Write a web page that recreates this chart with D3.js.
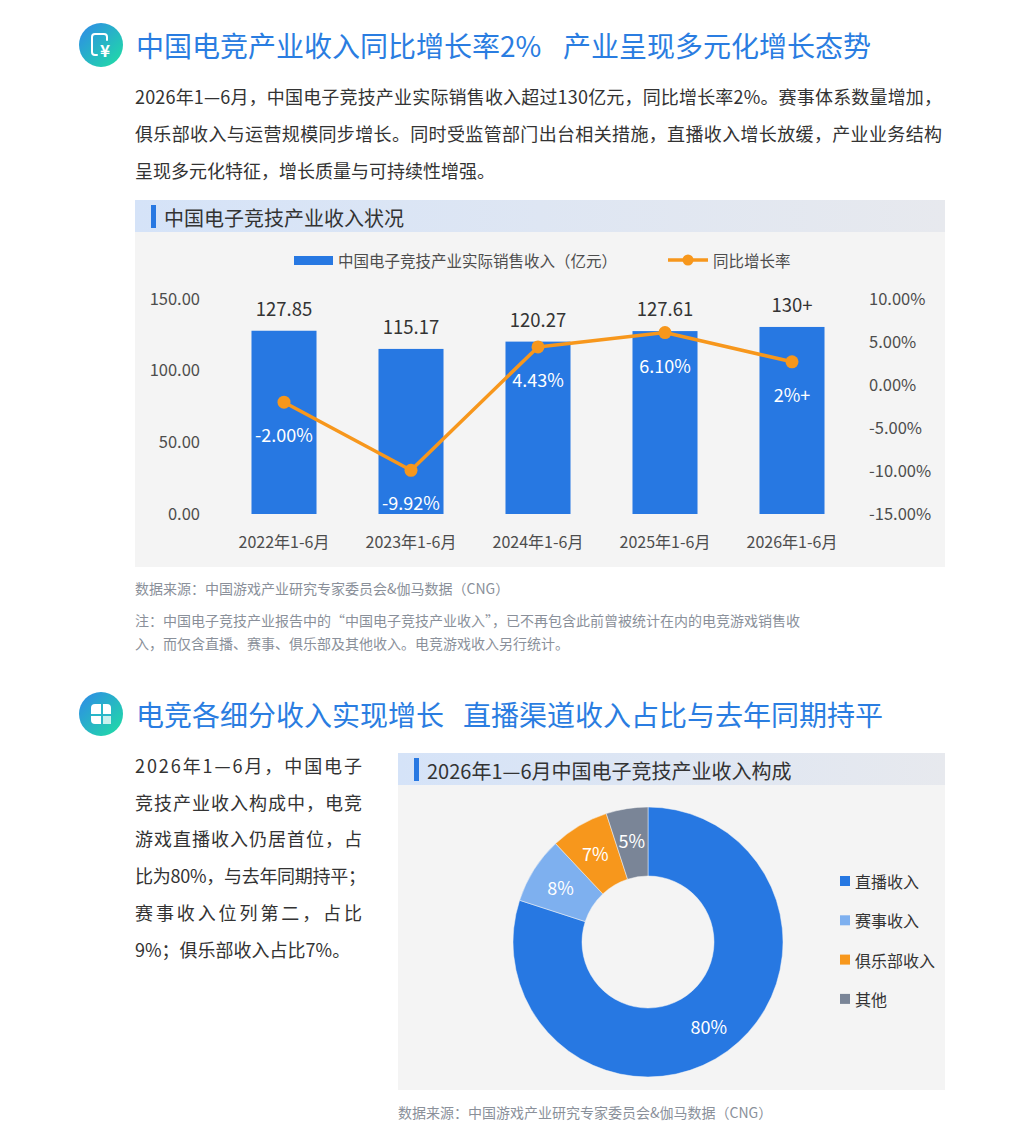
<!DOCTYPE html>
<html>
<head>
<meta charset="utf-8">
<script src="https://cdn.jsdelivr.net/npm/d3@7"></script>
<style>
  body { margin: 0; background: #fff; }
  svg { display: block; font-family: "Noto Sans CJK SC", "Noto Sans", sans-serif; }
</style>
</head>
<body>
<div id="page"></div>
<script>
// data
var years = ['2022年1-6月', '2023年1-6月', '2024年1-6月', '2025年1-6月', '2026年1-6月'];
var revenue = [127.85, 115.17, 120.27, 127.61, 130.5];
var revenueLabels = ['127.85', '115.17', '120.27', '127.61', '130+'];
var growth = [-2.00, -9.92, 4.43, 6.10, 2.7];
var growthLabels = ['-2.00%', '-9.92%', '4.43%', '6.10%', '2%+'];
var leftTicks = [0, 50, 100, 150];
var rightTicks = [-15, -10, -5, 0, 5, 10];

var pieCats = ['直播收入', '赛事收入', '俱乐部收入', '其他'];
var pieValues = [80, 8, 7, 5];

var title1 = ['中国电竞产业收入同比增长率2%', '产业呈现多元化增长态势'];
var title2 = ['电竞各细分收入实现增长', '直播渠道收入占比与去年同期持平'];
var para1 = [
  '2026年1—6月，中国电子竞技产业实际销售收入超过130亿元，同比增长率2%。赛事体系数量增加，',
  '俱乐部收入与运营规模同步增长。同时受监管部门出台相关措施，直播收入增长放缓，产业业务结构',
  '呈现多元化特征，增长质量与可持续性增强。'
];
var para2 = [
  '2026年1—6月，中国电子',
  '竞技产业收入构成中，电竞',
  '游戏直播收入仍居首位，占',
  '比为80%，与去年同期持平；',
  '赛事收入位列第二，占比',
  '9%；俱乐部收入占比7%。'
];
var sourceText = '数据来源：中国游戏产业研究专家委员会&伽马数据（CNG）';
var noteLines = [
  '注：中国电子竞技产业报告中的“中国电子竞技产业收入”，已不再包含此前曾被统计在内的电竞游戏销售收',
  '入，而仅含直播、赛事、俱乐部及其他收入。电竞游戏收入另行统计。'
];
var barTitle = '中国电子竞技产业收入状况';
var pieTitle = '2026年1—6月中国电子竞技产业收入构成';
var legendBar = '中国电子竞技产业实际销售收入（亿元）';
var legendLine = '同比增长率';

// colours
var blue = '#2778e2';
var orange = '#f7971c';
var pieColors = ['#2778e2', '#7eb0ef', '#f7971c', '#7a8597'];
var titleBlue = '#2a7de1';
var textDark = '#333333';
var axisGrey = '#4d4d4d';
var noteGrey = '#8a909a';

var W = 1024, H = 1133;

var svg = d3.select('#page').append('svg')
  .attr('width', W)
  .attr('height', H);

var defs = svg.append('defs');

var iconGrad = defs.append('linearGradient')
  .attr('id', 'iconGrad')
  .attr('x1', '0%').attr('y1', '0%')
  .attr('x2', '100%').attr('y2', '100%');
iconGrad.append('stop').attr('offset', '0%').attr('stop-color', '#2f88ea');
iconGrad.append('stop').attr('offset', '100%').attr('stop-color', '#1fe0a2');

var bandGrad = defs.append('linearGradient')
  .attr('id', 'bandGrad')
  .attr('x1', '0%').attr('y1', '0%')
  .attr('x2', '100%').attr('y2', '0%');
bandGrad.append('stop').attr('offset', '0%').attr('stop-color', '#d5e3f8');
bandGrad.append('stop').attr('offset', '100%').attr('stop-color', '#e7e9ee');

// section header: icon + blue title
function sectionHeader(cy, parts, gapX, iconType) {
  var g = svg.append('g');
  g.append('circle')
    .attr('cx', 101).attr('cy', cy).attr('r', 22)
    .attr('fill', 'url(#iconGrad)');

  if (iconType === 'money') {
    g.append('path')
      .attr('d', 'M104 34 H95 Q92 34 92 37 V52 Q92 55 95 55 H97 M104 34 Q107 34 107 37 V40')
      .attr('fill', 'none')
      .attr('stroke', '#fff')
      .attr('stroke-width', 2)
      .attr('stroke-linecap', 'round');
    g.append('text')
      .attr('x', 105).attr('y', cy + 4)
      .attr('text-anchor', 'middle')
      .attr('dominant-baseline', 'central')
      .attr('font-size', 17)
      .attr('font-weight', 'bold')
      .attr('fill', '#fff')
      .text('¥');
  } else {
    g.append('rect')
      .attr('x', 91).attr('y', cy - 10)
      .attr('width', 20).attr('height', 20)
      .attr('rx', 4)
      .attr('fill', '#fff');
    g.append('path')
      .attr('d', 'M102 ' + (cy - 10) + ' V' + (cy) + ' M91 ' + (cy + 1) + ' H111 M102 ' + (cy + 1) + ' V' + (cy + 10))
      .attr('stroke', '#29b7c8')
      .attr('stroke-width', 2);
    g.append('rect')
      .attr('x', 103).attr('y', cy + 2)
      .attr('width', 8).attr('height', 8)
      .attr('fill', '#c9f1ee');
  }

  g.append('text')
    .attr('x', 136).attr('y', cy)
    .attr('dominant-baseline', 'central')
    .attr('font-size', 28)
    .attr('fill', titleBlue)
    .text(parts[0]);
  g.append('text')
    .attr('x', gapX).attr('y', cy)
    .attr('dominant-baseline', 'central')
    .attr('font-size', 28)
    .attr('fill', titleBlue)
    .text(parts[1]);
}

// justified paragraph lines (last line left loose)
function paragraph(lines, x, y0, lineH, width, size) {
  svg.append('g').selectAll('text')
    .data(lines)
    .enter()
    .append('text')
      .attr('x', x)
      .attr('y', function(d, i) { return y0 + i * lineH; })
      .attr('dominant-baseline', 'central')
      .attr('font-size', size)
      .attr('fill', textDark)
      .attr('textLength', function(d, i) { return i < lines.length - 1 ? width : null; })
      .attr('lengthAdjust', 'spacing')
      .text(function(d) { return d; });
}

function panel(x, y, w, h, title) {
  svg.append('rect')
    .attr('x', x).attr('y', y).attr('width', w).attr('height', h)
    .attr('fill', '#f4f4f4');
  svg.append('rect')
    .attr('x', x).attr('y', y).attr('width', w).attr('height', 32)
    .attr('fill', 'url(#bandGrad)');
  svg.append('rect')
    .attr('x', x + 16).attr('y', y + 5).attr('width', 5).attr('height', 23)
    .attr('fill', blue);
  svg.append('text')
    .attr('x', x + 29).attr('y', y + 17)
    .attr('dominant-baseline', 'central')
    .attr('font-size', 20)
    .attr('fill', textDark)
    .text(title);
}

// ---------- section 1 ----------
sectionHeader(45, title1, 563, 'money');
paragraph(para1, 135, 96, 37, 807, 18);
panel(135, 200, 810, 367, barTitle);

// legend
svg.append('rect')
  .attr('x', 294).attr('y', 256).attr('width', 39).attr('height', 9)
  .attr('fill', blue);
svg.append('text')
  .attr('x', 338).attr('y', 260)
  .attr('dominant-baseline', 'central')
  .attr('font-size', 15.5)
  .attr('fill', axisGrey)
  .text(legendBar);
svg.append('line')
  .attr('x1', 668).attr('x2', 708).attr('y1', 260).attr('y2', 260)
  .attr('stroke', orange).attr('stroke-width', 3.5);
svg.append('circle')
  .attr('cx', 688).attr('cy', 260).attr('r', 5.5)
  .attr('fill', orange);
svg.append('text')
  .attr('x', 713).attr('y', 260)
  .attr('dominant-baseline', 'central')
  .attr('font-size', 15.5)
  .attr('fill', axisGrey)
  .text(legendLine);

// scales
var xScale = d3.scaleBand()
  .domain(years)
  .range([220.5, 855.5])
  .paddingInner(0.488)
  .paddingOuter(0.244);

var yLeft = d3.scaleLinear()
  .domain([0, 150])
  .range([514, 299]);

var yRight = d3.scaleLinear()
  .domain([-15, 10])
  .range([514, 299]);

// plain hyphen minus, like the original labels
var fmt2 = function(d) { return d3.format('.2f')(d).replace('\u2212', '-'); };

// axes
var leftAxis = d3.axisLeft(yLeft)
  .tickValues(leftTicks)
  .tickSize(0)
  .tickPadding(0)
  .tickFormat(fmt2);

var rightAxis = d3.axisRight(yRight)
  .tickValues(rightTicks)
  .tickSize(0)
  .tickPadding(0)
  .tickFormat(function(d) { return fmt2(d) + '%'; });

var bottomAxis = d3.axisBottom(xScale)
  .tickSize(0)
  .tickPadding(0);

function styleAxis(g, size) {
  g.select('.domain').remove();
  g.selectAll('text')
    .attr('font-family', '"Noto Sans CJK SC", "Noto Sans", sans-serif')
    .attr('font-size', size)
    .attr('fill', axisGrey);
}

svg.append('g')
  .attr('transform', 'translate(200, 0)')
  .call(leftAxis)
  .call(styleAxis, 16.5);

svg.append('g')
  .attr('transform', 'translate(869, 0)')
  .call(rightAxis)
  .call(styleAxis, 16.5);

svg.append('g')
  .attr('transform', 'translate(0, 514)')
  .call(bottomAxis)
  .call(styleAxis, 16)
  .selectAll('text')
    .attr('y', 28)
    .attr('dy', '0.35em');

// bars
var barData = years.map(function(y, i) {
  return { year: y, value: revenue[i], label: revenueLabels[i], rate: growth[i], rateLabel: growthLabels[i] };
});

svg.append('g').selectAll('rect')
  .data(barData)
  .enter()
  .append('rect')
    .attr('x', function(d) { return xScale(d.year); })
    .attr('y', function(d) { return yLeft(d.value); })
    .attr('width', xScale.bandwidth())
    .attr('height', function(d) { return yLeft(0) - yLeft(d.value); })
    .attr('fill', blue);

svg.append('g').selectAll('text')
  .data(barData)
  .enter()
  .append('text')
    .attr('x', function(d) { return xScale(d.year) + xScale.bandwidth() / 2; })
    .attr('y', function(d) { return yLeft(d.value) - 23; })
    .attr('text-anchor', 'middle')
    .attr('dominant-baseline', 'central')
    .attr('font-size', 18.5)
    .attr('fill', textDark)
    .text(function(d) { return d.label; });

// growth line
var line = d3.line()
  .x(function(d) { return xScale(d.year) + xScale.bandwidth() / 2; })
  .y(function(d) { return yRight(d.rate); });

svg.append('path')
  .datum(barData)
  .attr('d', line)
  .attr('fill', 'none')
  .attr('stroke', orange)
  .attr('stroke-width', 3.5)
  .attr('stroke-linejoin', 'round');

svg.append('g').selectAll('circle')
  .data(barData)
  .enter()
  .append('circle')
    .attr('cx', function(d) { return xScale(d.year) + xScale.bandwidth() / 2; })
    .attr('cy', function(d) { return yRight(d.rate); })
    .attr('r', 6.5)
    .attr('fill', orange);

svg.append('g').selectAll('text')
  .data(barData)
  .enter()
  .append('text')
    .attr('x', function(d) { return xScale(d.year) + xScale.bandwidth() / 2; })
    .attr('y', function(d) { return yRight(d.rate) + 32; })
    .attr('text-anchor', 'middle')
    .attr('dominant-baseline', 'central')
    .attr('font-size', 18)
    .attr('fill', '#fff')
    .text(function(d) { return d.rateLabel; });

// source + notes
svg.append('text')
  .attr('x', 135).attr('y', 588)
  .attr('dominant-baseline', 'central')
  .attr('font-size', 14)
  .attr('fill', noteGrey)
  .text(sourceText);

svg.append('g').selectAll('text')
  .data(noteLines)
  .enter()
  .append('text')
    .attr('x', 135)
    .attr('y', function(d, i) { return 620 + i * 23; })
    .attr('dominant-baseline', 'central')
    .attr('font-size', 14)
    .attr('fill', noteGrey)
    .text(function(d) { return d; });

// ---------- section 2 ----------
sectionHeader(714, title2, 463, 'grid');

svg.append('g').selectAll('text')
  .data(para2)
  .enter()
  .append('text')
    .attr('x', 135)
    .attr('y', function(d, i) { return 765 + i * 36.7; })
    .attr('dominant-baseline', 'central')
    .attr('font-size', 18)
    .attr('fill', textDark)
    .attr('textLength', function(d, i) {
      if (i === 3) return 231;
      return i < para2.length - 1 ? 227 : null;
    })
    .attr('lengthAdjust', 'spacing')
    .text(function(d) { return d; });

panel(398, 753, 547, 337, pieTitle);

// donut
var pieCx = 648, pieCy = 942;
var pie = d3.pie()
  .sort(null)
  .value(function(d) { return d; });

var arc = d3.arc()
  .innerRadius(66)
  .outerRadius(135);

var labelArc = d3.arc()
  .innerRadius(72)
  .outerRadius(135);

var arcs = pie(pieValues);

var pieG = svg.append('g')
  .attr('transform', 'translate(' + pieCx + ',' + pieCy + ')');

pieG.selectAll('path')
  .data(arcs)
  .enter()
  .append('path')
    .attr('d', arc)
    .attr('fill', function(d, i) { return pieColors[i]; })
    .attr('stroke', '#f4f4f4')
    .attr('stroke-width', 0.5);

pieG.selectAll('text')
  .data(arcs)
  .enter()
  .append('text')
    .attr('transform', function(d) { return 'translate(' + labelArc.centroid(d) + ')'; })
    .attr('text-anchor', 'middle')
    .attr('dominant-baseline', 'central')
    .attr('font-size', 18)
    .attr('fill', '#fff')
    .text(function(d) { return d.value + '%'; });

// pie legend
var legend = svg.append('g').selectAll('g')
  .data(pieCats)
  .enter()
  .append('g')
    .attr('transform', function(d, i) { return 'translate(840, ' + (881 + i * 39.3) + ')'; });

legend.append('rect')
  .attr('x', 0).attr('y', -5)
  .attr('width', 10).attr('height', 10)
  .attr('fill', function(d, i) { return pieColors[i]; });

legend.append('text')
  .attr('x', 15).attr('y', 0)
  .attr('dominant-baseline', 'central')
  .attr('font-size', 16)
  .attr('fill', textDark)
  .text(function(d) { return d; });

svg.append('text')
  .attr('x', 398).attr('y', 1112)
  .attr('dominant-baseline', 'central')
  .attr('font-size', 14)
  .attr('fill', noteGrey)
  .text(sourceText);
</script>
</body>
</html>
